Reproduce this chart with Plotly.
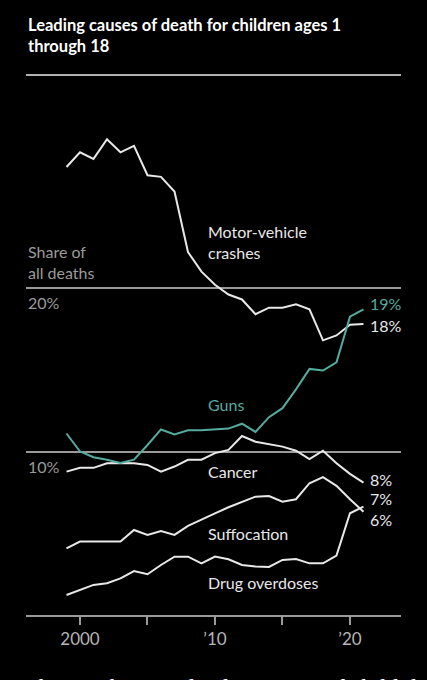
import plotly.graph_objects as go

# years shown on the chart
years = list(range(1999, 2022))

# share of all deaths, percent
motor_vehicle = [27.4, 28.3, 27.9, 29.1, 28.3, 28.7, 26.9, 26.8, 25.9, 22.2, 21.0, 20.2,
                 19.6, 19.3, 18.4, 18.8, 18.8, 19.0, 18.7, 16.8, 17.1, 17.75, 17.8]
guns = [11.1, 10.0, 9.65, 9.5, 9.3, 9.5, 10.4, 11.35, 11.05, 11.3, 11.3, 11.35,
        11.4, 11.7, 11.2, 12.1, 12.65, 13.8, 15.05, 14.95, 15.45, 18.25, 18.7]
cancer = [8.77, 9.0, 9.0, 9.28, 9.3, 9.28, 9.18, 8.77, 9.08, 9.49, 9.5, 9.9,
          10.1, 10.95, 10.6, 10.46, 10.3, 10.05, 9.53, 10.05, 9.28, 8.63, 8.1]
suffocation = [4.08, 4.49, 4.49, 4.49, 4.49, 5.2, 4.9, 5.14, 4.9, 5.45, 5.86, 6.22,
               6.59, 6.9, 7.24, 7.28, 6.93, 7.08, 8.06, 8.43, 7.9, 7.08, 6.32]
drug_overdoses = [1.22, 1.53, 1.84, 1.94, 2.24, 2.69, 2.49, 3.06, 3.57, 3.57, 3.16, 3.57,
                  3.41, 3.06, 2.96, 2.94, 3.37, 3.42, 3.16, 3.16, 3.63, 6.22, 6.63]

tick_years = [2000, 2005, 2010, 2015, 2020]
tick_labels = ["2000", "", "\u201910", "", "\u201920"]

WHITE = "#e8e8e8"
TEAL = "#55aba0"
GREY = "#9a9a9a"
FONT = "Lato"

fig = go.Figure()

series = [
    (motor_vehicle, WHITE),
    (cancer, WHITE),
    (suffocation, WHITE),
    (drug_overdoses, WHITE),
    (guns, TEAL),
]
for vals, col in series:
    fig.add_trace(go.Scatter(x=years, y=vals, mode="lines",
                             line=dict(color=col, width=2), hoverinfo="skip"))

# series labels inside the plot
labels = [
    ("Motor-vehicle<br>crashes", 2009.33, 22.84, WHITE),
    ("Guns", 2009.33, 12.9, TEAL),
    ("Cancer", 2009.33, 8.75, WHITE),
    ("Suffocation", 2009.33, 5.0, WHITE),
    ("Drug overdoses", 2009.33, 2.0, WHITE),
    ("19%", 2021.3, 19.05, TEAL),
    ("18%", 2021.3, 17.7, WHITE),
    ("8%", 2021.3, 8.26, WHITE),
    ("7%", 2021.3, 7.1, WHITE),
    ("6%", 2021.3, 5.87, WHITE),
]
for txt, x, y, col in labels:
    fig.add_annotation(x=x, y=y, text=txt, showarrow=False, xanchor="left",
                       yanchor="middle", align="left",
                       font=dict(family=FONT, size=16, color=col))

# y labels under the gridlines
for v in [10, 20]:
    fig.add_annotation(x=0, xref="paper", y=v, text=f"{v}%", showarrow=False,
                       xanchor="left", yanchor="top", yshift=-3,
                       font=dict(family=FONT, size=16, color=GREY))
fig.add_annotation(x=0, xref="paper", y=21.6, text="Share of<br>all deaths",
                   showarrow=False, xanchor="left", yanchor="middle", align="left",
                   font=dict(family=FONT, size=16, color=GREY))

# title and rule
fig.add_annotation(x=0, xref="paper", y=1.168, yref="paper",
                   text="<b>Leading causes of death for children ages 1<br>through 18</b>",
                   showarrow=False, xanchor="left", yanchor="top", align="left",
                   font=dict(family=FONT, size=16.5, color="#ffffff"))
fig.add_shape(type="line", xref="paper", yref="paper", x0=0, x1=1, y0=1.0485, y1=1.0485,
              line=dict(color="#b0b0b0", width=2))

# cut-off start of the story text below the chart
fig.add_annotation(x=-0.01, xref="paper", y=-0.1105, yref="paper",
                   text="The number-one leading cause of child deaths is now",
                   showarrow=False, xanchor="left", yanchor="top",
                   font=dict(family="Liberation Serif", size=24, color="#ffffff"))

fig.update_layout(
    width=427, height=680,
    margin=dict(l=26, r=26, t=100, b=65),
    paper_bgcolor="#000000", plot_bgcolor="#000000",
    showlegend=False,
    xaxis=dict(range=[1996.0, 2023.78], tickvals=tick_years, ticktext=tick_labels,
               showgrid=False, zeroline=False, showline=True, linecolor=GREY, linewidth=1.5,
               ticks="outside", ticklen=8, tickcolor=GREY, tickwidth=1.5,
               tickfont=dict(family=FONT, size=17, color="#b5b5b5"), fixedrange=True),
    yaxis=dict(range=[0, 31.5], tickvals=[10, 20], showticklabels=False,
               showgrid=True, gridcolor=GREY, gridwidth=1.5, zeroline=False,
               fixedrange=True),
)

# drop the default page margin so the figure sits flush in the window
fig.write_html("out.html", config={"displayModeBar": False},
               post_script="document.body.style.margin='0';"
                           "document.body.style.background='#000';")
